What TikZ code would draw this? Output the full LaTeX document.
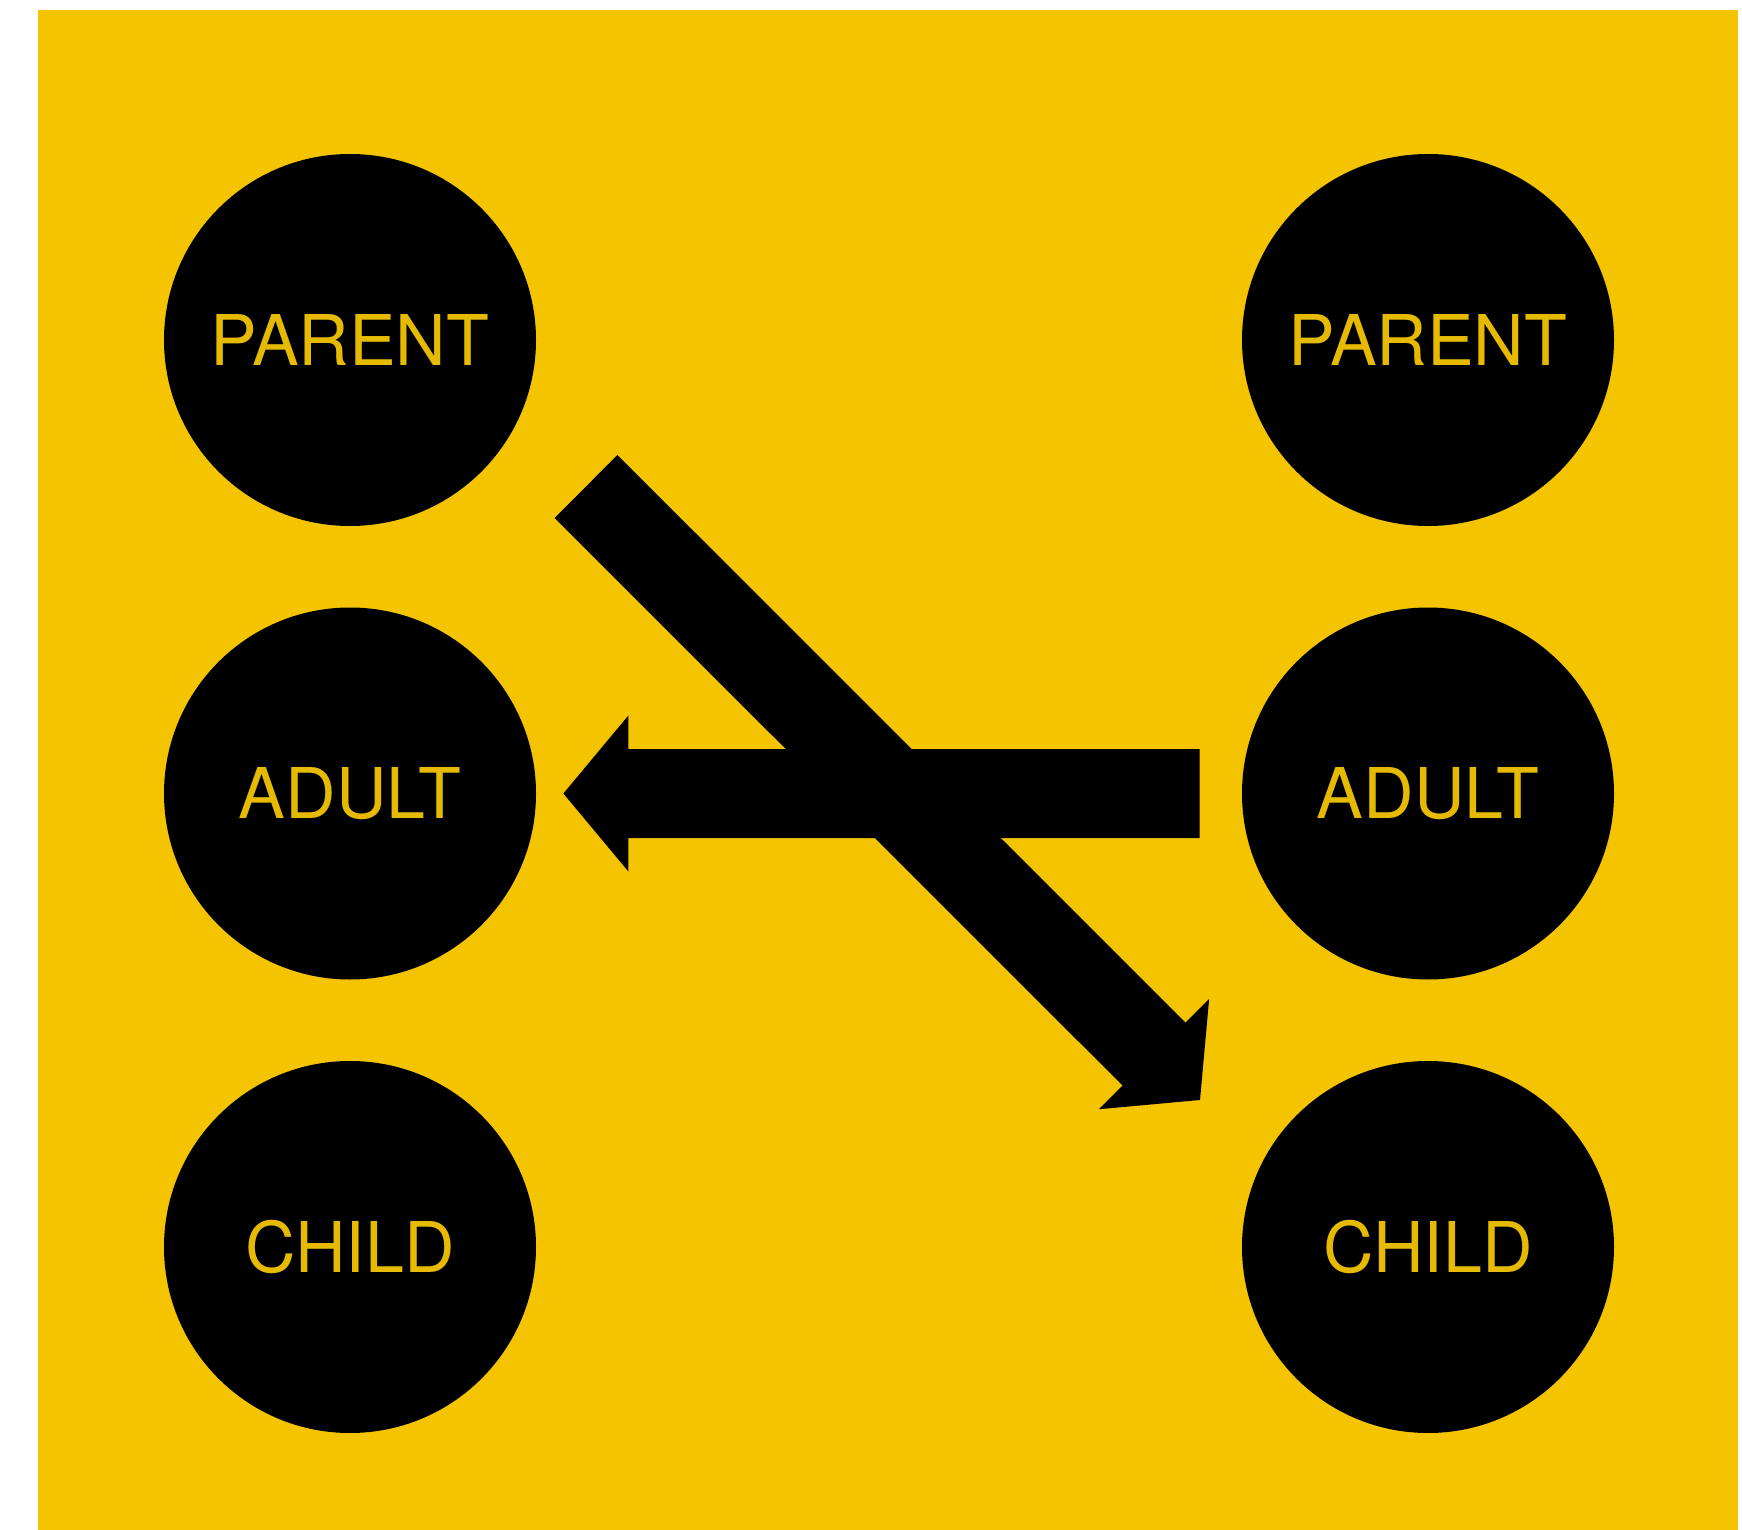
\documentclass[tikz,border=0pt]{standalone}
\usepackage{fontspec}
\setmainfont{TeX Gyre Heros}
\usetikzlibrary{calc}
\definecolor{bgyellow}{RGB}{245,196,0}
\definecolor{txtyellow}{RGB}{230,186,0}
\tikzset{
  disc/.style={circle, fill=black, minimum size=186pt, inner sep=0pt,
    text=txtyellow, font=\fontsize{35}{35}\selectfont, text height=25.2pt, text depth=0pt},
}
\newcommand{\fatarrow}[2]{%
  \coordinate (fbase) at ($(#2)!32.5pt!(#1)$);
  \fill[black] ($(#1)!22.25pt!90:(#2)$) -- ($(fbase)!22.25pt!-90:(#1)$)
    -- ($(fbase)!39pt!-90:(#1)$) -- (#2) -- ($(fbase)!39pt!90:(#1)$)
    -- ($(fbase)!22.25pt!90:(#1)$) -- ($(#1)!22.25pt!-90:(#2)$) -- cycle;}
\begin{document}
\begin{tikzpicture}[x=0.5pt,y=-0.5pt]
\useasboundingbox (0,0) rectangle (1742,1530);
\fill[white] (0,0) rectangle (1742,1530);
\fill[bgyellow] (38,10) rectangle (1738,1530);

\node[disc] (lp) at (350,340) {PARENT};
\node[disc] (la) at (350,793.5) {ADULT};
\node[disc] (lc) at (350,1247) {CHILD};
\node[disc] (rp) at (1428,340) {PARENT};
\node[disc] (ra) at (1428,793.5) {ADULT};
\node[disc] (rc) at (1428,1247) {CHILD};

% diagonal arrow: from near left PARENT to near right CHILD
\coordinate (dT) at (586,486.5);
\coordinate (dH) at (1200,1100);
\fatarrow{dT}{dH}

% horizontal arrow: from right ADULT to left ADULT
\coordinate (hT) at ($(ra.west)+(-42,0)$);
\coordinate (hH) at ($(la.east)+(27,0)$);
\fatarrow{hT}{hH}
\end{tikzpicture}
\end{document}
